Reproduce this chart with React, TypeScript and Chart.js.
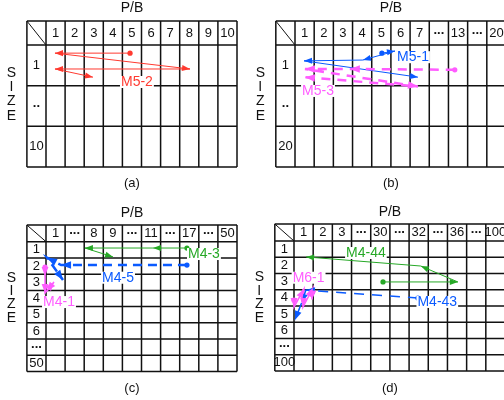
import React, { useEffect, useRef } from "react";
import { Chart, registerables } from "chart.js";
Chart.register(...registerables);

const FONT = '"Liberation Sans", Arial, Helvetica, sans-serif';

// ---- tick labels ----
const colsA = ["1", "2", "3", "4", "5", "6", "7", "8", "9", "10"];
const rowsA = ["1", "..", "10"];
const colsB = ["1", "2", "3", "4", "5", "6", "7", "...", "13", "...", "20"];
const rowsB = ["1", "..", "20"];
const colsC = ["1", "...", "8", "9", "...", "11", "...", "17", "...", "50"];
const rowsC = ["1", "2", "3", "4", "5", "6", "...", "50"];
const colsD = ["1", "2", "3", "...", "30", "...", "32", "...", "36", "...", "100"];
const rowsD = ["1", "2", "3", "4", "5", "6", "...", "100"];

const captions = ["(a)", "(b)", "(c)", "(d)"];
const xTitle = "P/B";
const yTitle = ["S", "I", "Z", "E"];

// ---- paths (x in P/B column units, y in SIZE row units) ----
const m52X = [4.4, 0.47, 7.54, 0.47, 2.46];
const m52Y = [0.2, 0.2, 0.59, 0.59, 0.79];

const m51X = [4.53, 5.21, 3.54, 0.47, 6.41];
const m51Y = [0.2, 0.15, 0.37, 0.39, 0.79];
const m53X = [8.33, 2.86, 0.52, 6.41, 0.52];
const m53Y = [0.61, 0.59, 0.59, 1.02, 0.79];

const m43X = [7.38, 5.6, 2.04, 3.51];
const m43Y = [0.39, 0.39, 0.39, 0.94];
const m45X = [7.38, 0.79, 0.05, 0.89];
const m45Y = [1.44, 1.44, 0.98, 2.36];
const m41X = [-0.05, -0.05, -0.05, 0.42, 0.05];
const m41Y = [1.56, 2.11, 3.16, 2.48, 3.04];

const m444X = [4.64, 8.54, 6.61, 0.63];
const m444Y = [2.52, 2.52, 1.54, 0.98];
const m443X = [6.46, 0.62, 0.4, 0.05];
const m443Y = [3.51, 3.02, 3.8, 4.86];
const m61X = [0.0, 0.0, 0.52, 0.47, 0.99, 0.94];
const m61Y = [3.63, 4.06, 2.95, 4.06, 2.89, 3.6];

const RED = "#ff3a30";
const BLUE = "#0a5aff";
const MAGENTA = "#ff5cff";
const GREEN = "#26a826";

type Series = {
  name: string;
  xs: number[];
  ys: number[];
  color: string;
  width: number;
  dash: number[];
  tagX: number;
  tagY: number;
  head: number;
};

type Panel = {
  cols: string[];
  rows: string[];
  caption: string;
  left: number;
  top: number;
  w: number;
  h: number;
  pad: { left: number; right: number; top: number; bottom: number };
  headerH: number;
  titleY: number;
  captionY: number;
  sizeY0: number;
  sizeStep: number;
  series: Series[];
};

const panels: Panel[] = [
  {
    cols: colsA, rows: rowsA, caption: captions[0],
    left: 0, top: 0, w: 252, h: 197,
    pad: { left: 46, right: 15, top: 45, bottom: 30 },
    headerH: 24, titleY: 8, captionY: 183, sizeY0: 73, sizeStep: 14.3,
    series: [
      { name: "M5-2", xs: m52X, ys: m52Y, color: RED, width: 1, dash: [], tagX: 4.76, tagY: 0.91, head: 8 },
    ],
  },
  {
    cols: colsB, rows: rowsB, caption: captions[1],
    left: 252, top: 0, w: 262, h: 197,
    pad: { left: 43, right: 8, top: 45, bottom: 30 },
    headerH: 24, titleY: 8, captionY: 183, sizeY0: 73, sizeStep: 14.3,
    series: [
      { name: "M5-3", xs: m53X, ys: m53Y, color: MAGENTA, width: 2.5, dash: [9, 7], tagX: 1.2, tagY: 1.13, head: 10 },
      { name: "M5-1", xs: m51X, ys: m51Y, color: BLUE, width: 1, dash: [], tagX: 6.15, tagY: 0.3, head: 8 },
    ],
  },
  {
    cols: colsC, rows: rowsC, caption: captions[2],
    left: 0, top: 197, w: 252, h: 203,
    pad: { left: 46, right: 15, top: 44.7, bottom: 28.5 },
    headerH: 16.7, titleY: 16, captionY: 191, sizeY0: 81, sizeStep: 13.3,
    series: [
      { name: "M4-3", xs: m43X, ys: m43Y, color: GREEN, width: 1, dash: [], tagX: 8.27, tagY: 0.76, head: 8 },
      { name: "M4-5", xs: m45X, ys: m45Y, color: BLUE, width: 2.5, dash: [9, 6], tagX: 3.77, tagY: 2.22, head: 10 },
      { name: "M4-1", xs: m41X, ys: m41Y, color: MAGENTA, width: 1.5, dash: [], tagX: 0.68, tagY: 3.72, head: 9 },
    ],
  },
  {
    cols: colsD, rows: rowsD, caption: captions[3],
    left: 252, top: 197, w: 262, h: 203,
    pad: { left: 42, right: 9, top: 44, bottom: 29 },
    headerH: 17, titleY: 15, captionY: 191, sizeY0: 80, sizeStep: 13.7,
    series: [
      { name: "M4-44", xs: m444X, ys: m444Y, color: GREEN, width: 1, dash: [], tagX: 3.75, tagY: 0.74, head: 8 },
      { name: "M4-43", xs: m443X, ys: m443Y, color: BLUE, width: 1.5, dash: [10, 8], tagX: 7.47, tagY: 3.75, head: 9 },
      { name: "M6-1", xs: m61X, ys: m61Y, color: MAGENTA, width: 1.5, dash: [], tagX: 0.76, tagY: 2.26, head: 9 },
    ],
  },
];

function makeTablePlugin(p: Panel) {
  return {
    id: "table",
    beforeDatasetsDraw(chart: any) {
      const ctx = chart.ctx;
      const xs = chart.scales.x;
      const ys = chart.scales.y;
      const colW = xs.getPixelForValue(1) - xs.getPixelForValue(0);
      const x0 = xs.getPixelForValue(0);
      const x1 = xs.getPixelForValue(p.cols.length);
      const y0 = ys.getPixelForValue(0);
      const y1 = ys.getPixelForValue(p.rows.length);
      const gl = x0 - colW;
      const gt = y0 - p.headerH;
      ctx.save();
      ctx.strokeStyle = "#111";
      ctx.lineWidth = 1.5;
      ctx.beginPath();
      for (let i = 0; i <= p.cols.length; i++) {
        const x = xs.getPixelForValue(i);
        ctx.moveTo(x, gt);
        ctx.lineTo(x, y1);
      }
      ctx.moveTo(gl, gt);
      ctx.lineTo(gl, y1);
      for (let j = 0; j <= p.rows.length; j++) {
        const y = ys.getPixelForValue(j);
        ctx.moveTo(gl, y);
        ctx.lineTo(x1, y);
      }
      ctx.moveTo(gl, gt);
      ctx.lineTo(x1, gt);
      ctx.stroke();
      // diagonal in corner
      ctx.lineWidth = 1;
      ctx.beginPath();
      ctx.moveTo(gl, gt);
      ctx.lineTo(x0, y0);
      ctx.stroke();

      ctx.fillStyle = "#111";
      ctx.textAlign = "center";
      ctx.textBaseline = "middle";
      const hy = (gt + y0) / 2;
      p.cols.forEach((c, i) => {
        const cx = xs.getPixelForValue(i + 0.5);
        ctx.font = (c.startsWith(".") ? "bold " : "") + "13px " + FONT;
        ctx.fillText(c, cx, hy + (c.startsWith(".") ? -3 : 0));
      });
      const rx = (gl + x0) / 2;
      p.rows.forEach((r, j) => {
        const cy = ys.getPixelForValue(j + 0.5);
        ctx.font = (r.startsWith(".") ? "bold " : "") + "13px " + FONT;
        ctx.fillText(r, rx, cy + (r.startsWith(".") ? -3 : 0));
      });
      ctx.font = "14px " + FONT;
      ctx.fillText(xTitle, (gl + x1) / 2, p.titleY);
      yTitle.forEach((ch, k) => {
        ctx.fillText(ch, gl - 15.5, p.sizeY0 + k * p.sizeStep);
      });
      ctx.font = "13px " + FONT;
      ctx.fillText(p.caption, (gl + x1) / 2, p.captionY);
      ctx.restore();
    },
    afterDatasetsDraw(chart: any) {
      const ctx = chart.ctx;
      const xs = chart.scales.x;
      const ys = chart.scales.y;
      chart.data.datasets.forEach((ds: any, di: number) => {
        const pts = chart.getDatasetMeta(di).data;
        ctx.save();
        ctx.fillStyle = ds.borderColor;
        const L = ds.head;
        const W = L * 0.38;
        for (let i = 1; i < pts.length; i++) {
          const a = pts[i - 1];
          const b = pts[i];
          const ang = Math.atan2(b.y - a.y, b.x - a.x);
          const c = Math.cos(ang);
          const s = Math.sin(ang);
          ctx.beginPath();
          ctx.moveTo(b.x, b.y);
          ctx.lineTo(b.x - L * c + W * s, b.y - L * s - W * c);
          ctx.lineTo(b.x - L * c - W * s, b.y - L * s + W * c);
          ctx.closePath();
          ctx.fill();
        }
        ctx.restore();
      });
      chart.data.datasets.forEach((ds: any) => {
        const tx = xs.getPixelForValue(ds.tagX);
        const ty = ys.getPixelForValue(ds.tagY);
        ctx.save();
        ctx.font = "14px " + FONT;
        ctx.textAlign = "center";
        ctx.textBaseline = "middle";
        const w = ctx.measureText(ds.label).width;
        ctx.fillStyle = "#fff";
        ctx.fillRect(tx - w / 2 - 1, ty - 6, w + 2, 12);
        ctx.fillStyle = ds.borderColor;
        ctx.fillText(ds.label, tx, ty);
        ctx.restore();
      });
    },
  };
}

function PanelChart({ p }: { p: Panel }) {
  const ref = useRef<HTMLCanvasElement | null>(null);
  useEffect(() => {
    if (!ref.current) return;
    const chart = new Chart(ref.current, {
      type: "scatter",
      data: {
        datasets: p.series.map((s) => ({
          label: s.name,
          data: s.xs.map((x, i) => ({ x, y: s.ys[i] })),
          showLine: true,
          borderColor: s.color,
          backgroundColor: s.color,
          borderWidth: s.width,
          borderDash: s.dash,
          pointRadius: s.xs.map((_, i) => (i === 0 ? 2.6 : 0)),
          pointBorderWidth: 0,
          pointHoverRadius: 0,
          tension: 0,
          clip: false,
          tagX: s.tagX,
          tagY: s.tagY,
          head: s.head,
        })) as any,
      },
      options: {
        responsive: false,
        animation: false,
        events: [],
        layout: { padding: p.pad },
        scales: {
          x: { type: "linear", display: false, min: 0, max: p.cols.length },
          y: { type: "linear", display: false, min: 0, max: p.rows.length, reverse: true },
        },
        plugins: { legend: { display: false }, tooltip: { enabled: false } },
      } as any,
      plugins: [makeTablePlugin(p) as any],
    });
    return () => chart.destroy();
  }, [p]);
  return (
    <canvas
      ref={ref}
      width={p.w}
      height={p.h}
      style={{ position: "absolute", left: p.left, top: p.top, width: p.w, height: p.h }}
    />
  );
}

export default function App() {
  return (
    <div
      style={{
        position: "fixed",
        left: 0,
        top: 0,
        width: 504,
        height: 400,
        overflow: "hidden",
        background: "#fff",
      }}
    >
      {panels.map((p, i) => (
        <PanelChart key={i} p={p} />
      ))}
    </div>
  );
}
